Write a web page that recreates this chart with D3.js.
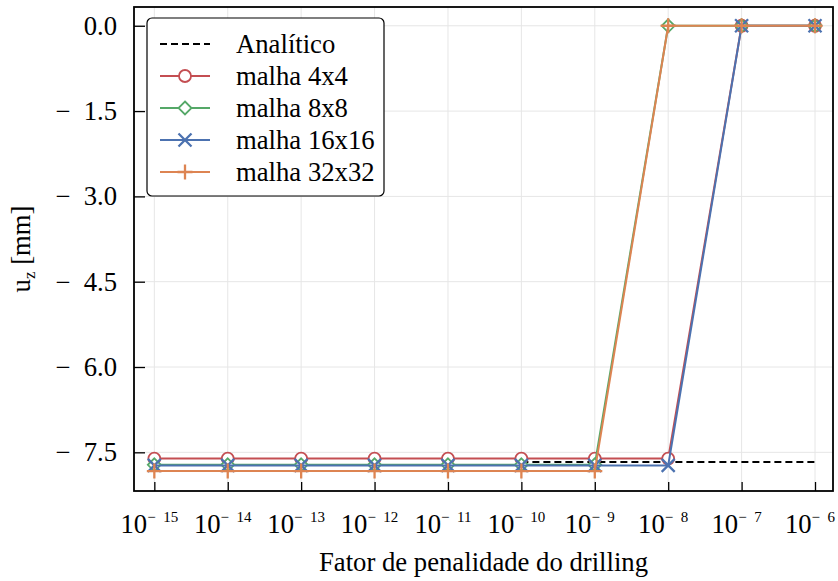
<!DOCTYPE html>
<html>
  <head>
    <meta charset="utf-8">
    <script src="https://cdn.jsdelivr.net/npm/d3@7"></script>
    <style>
      body { margin: 0; background: #fff; }
      text { font-family: "Liberation Serif", "DejaVu Serif", serif; fill: #000; }
    </style>
  </head>
  <body>
    <svg id="chart" width="838" height="581"></svg>
    <script>
// expoentes do fator de penalidade (10^e)
var expoentes = [-15, -14, -13, -12, -11, -10, -9, -8, -7, -6];

// deslocamento u_z [mm] por malha (null = sem ponto)
var analitico = [null, null, null, null, null, -7.67, -7.67, -7.67, -7.67, -7.67];
var malha4x4   = [-7.61, -7.61, -7.61, -7.61, -7.61, -7.61, -7.61, -7.61, 0, 0];
var malha8x8   = [-7.72, -7.72, -7.72, -7.72, -7.72, -7.72, -7.72, 0, 0, 0];
var malha16x16 = [-7.73, -7.73, -7.73, -7.73, -7.73, -7.73, -7.73, -7.73, 0, 0];
var malha32x32 = [-7.83, -7.83, -7.83, -7.83, -7.83, -7.83, -7.83, 0, 0, 0];

var yTicks = [0, -1.5, -3.0, -4.5, -6.0, -7.5];

var series = [
  { nome: "Analítico",   valores: analitico,  cor: "#000000", marcador: null, tracejado: true },
  { nome: "malha 4x4",   valores: malha4x4,   cor: "#C44E52", marcador: "circle" },
  { nome: "malha 8x8",   valores: malha8x8,   cor: "#55A868", marcador: "diamond" },
  { nome: "malha 16x16", valores: malha16x16, cor: "#4C72B0", marcador: "x" },
  { nome: "malha 32x32", valores: malha32x32, cor: "#DD8452", marcador: "plus" }
];

var pLeft = 134, pRight = 833, pTop = 7, pBottom = 491;

var svg = d3.select("#chart");

var x = d3.scaleLinear().domain([-15.277, -5.755]).range([pLeft, pRight]);
var y = d3.scaleLinear().domain([-8.18, 0.33]).range([pBottom, pTop]);

// grade
svg.append("g").selectAll("line").data(expoentes).enter().append("line")
  .attr("x1", function (d) { return x(d); }).attr("x2", function (d) { return x(d); })
  .attr("y1", pTop).attr("y2", pBottom)
  .style("stroke", "#e6e6e6").style("stroke-width", 1);
svg.append("g").selectAll("line").data(yTicks).enter().append("line")
  .attr("y1", function (d) { return y(d); }).attr("y2", function (d) { return y(d); })
  .attr("x1", pLeft).attr("x2", pRight)
  .style("stroke", "#e6e6e6").style("stroke-width", 1);

// marcadores
function desenhaMarcador(g, tipo, cor, cx, cy) {
  if (tipo === "circle") {
    g.append("circle").attr("cx", cx).attr("cy", cy).attr("r", 6)
      .style("fill", "#fff").style("stroke", cor).style("stroke-width", 1.8);
  } else if (tipo === "diamond") {
    var s = 6.5;
    g.append("path")
      .attr("d", "M" + cx + "," + (cy - s) + "L" + (cx + s) + "," + cy + "L" + cx + "," + (cy + s) + "L" + (cx - s) + "," + cy + "Z")
      .style("fill", "#fff").style("stroke", cor).style("stroke-width", 1.8);
  } else if (tipo === "x") {
    var s2 = 6.5;
    g.append("path")
      .attr("d", "M" + (cx - s2) + "," + (cy - s2) + "L" + (cx + s2) + "," + (cy + s2) + "M" + (cx - s2) + "," + (cy + s2) + "L" + (cx + s2) + "," + (cy - s2))
      .style("fill", "none").style("stroke", cor).style("stroke-width", 2.3);
  } else if (tipo === "plus") {
    var s3 = 7.5;
    g.append("path")
      .attr("d", "M" + (cx - s3) + "," + cy + "L" + (cx + s3) + "," + cy + "M" + cx + "," + (cy - s3) + "L" + cx + "," + (cy + s3))
      .style("fill", "none").style("stroke", cor).style("stroke-width", 2.3);
  }
}

var linha = d3.line()
  .defined(function (d) { return d.v !== null; })
  .x(function (d) { return x(d.e); })
  .y(function (d) { return y(d.v); });

series.forEach(function (s) {
  var pts = expoentes.map(function (e, i) { return { e: e, v: s.valores[i] }; });
  var g = svg.append("g");
  g.append("path").datum(pts).attr("d", linha)
    .style("fill", "none").style("stroke", s.cor)
    .style("stroke-width", 2)
    .style("stroke-dasharray", s.tracejado ? "7,4" : null);
  if (s.marcador) {
    pts.filter(function (d) { return d.v !== null; }).forEach(function (d) {
      desenhaMarcador(g, s.marcador, s.cor, x(d.e), y(d.v));
    });
  }
});

// eixos (ticks para dentro)
var eixoX = d3.axisBottom(x).tickValues(expoentes).tickSize(-9).tickFormat("");
svg.append("g").attr("transform", "translate(0," + pBottom + ")").call(eixoX)
  .call(function (g) { g.select(".domain").remove(); })
  .selectAll("line").style("stroke", "#000").style("stroke-width", 1.3);
var eixoY = d3.axisLeft(y).tickValues(yTicks).tickSize(-11).tickFormat("");
svg.append("g").attr("transform", "translate(" + pLeft + ",0)").call(eixoY)
  .call(function (g) { g.select(".domain").remove(); })
  .selectAll("line").style("stroke", "#000").style("stroke-width", 1.3);

// moldura
svg.append("rect").attr("x", pLeft).attr("y", pTop)
  .attr("width", pRight - pLeft).attr("height", pBottom - pTop)
  .style("fill", "none").style("stroke", "#000").style("stroke-width", 1.8);

// rótulos dos ticks y
svg.append("g").selectAll("text").data(yTicks).enter().append("text")
  .attr("x", 117).attr("y", function (d) { return y(d) + 9; })
  .attr("text-anchor", "end").style("font-size", "26.7px")
  .text(function (d) { return d === 0 ? "0.0" : "\u2212\u2002" + Math.abs(d).toFixed(1); });

// rótulos dos ticks x
var rx = svg.append("g").selectAll("text").data(expoentes).enter().append("text")
  .attr("x", function (d) { return x(d) - 5; }).attr("y", 533)
  .attr("text-anchor", "middle").style("font-size", "26.7px");
rx.append("tspan").text("10");
rx.append("tspan").attr("dy", -11).style("font-size", "15px")
  .text(function (d) { return "\u2212\u2002" + Math.abs(d); });

// títulos dos eixos
svg.append("text").attr("x", (pLeft + pRight) / 2).attr("y", 571)
  .attr("text-anchor", "middle").style("font-size", "26.7px")
  .text("Fator de penalidade do drilling");

var yl = svg.append("text").attr("transform", "translate(30,249) rotate(-90)")
  .attr("text-anchor", "middle").style("font-size", "26.7px");
yl.append("tspan").text("u");
yl.append("tspan").attr("dy", 5).style("font-size", "17px").text("z");
yl.append("tspan").attr("dy", -5).text(" [mm]");

// legenda
var leg = svg.append("g");
leg.append("rect").attr("x", 147).attr("y", 18).attr("width", 237).attr("height", 178)
  .attr("rx", 5).style("fill", "#fff").style("stroke", "#000").style("stroke-width", 1.2);
series.forEach(function (s, i) {
  var ly = 44 + i * 32;
  leg.append("line").attr("x1", 160).attr("x2", 210).attr("y1", ly).attr("y2", ly)
    .style("stroke", s.cor).style("stroke-width", 2)
    .style("stroke-dasharray", s.tracejado ? "7,4" : null);
  if (s.marcador) desenhaMarcador(leg, s.marcador, s.cor, 185, ly);
  leg.append("text").attr("x", 236).attr("y", ly + 9).style("font-size", "26.7px").text(s.nome);
});
    </script>
  </body>
</html>
